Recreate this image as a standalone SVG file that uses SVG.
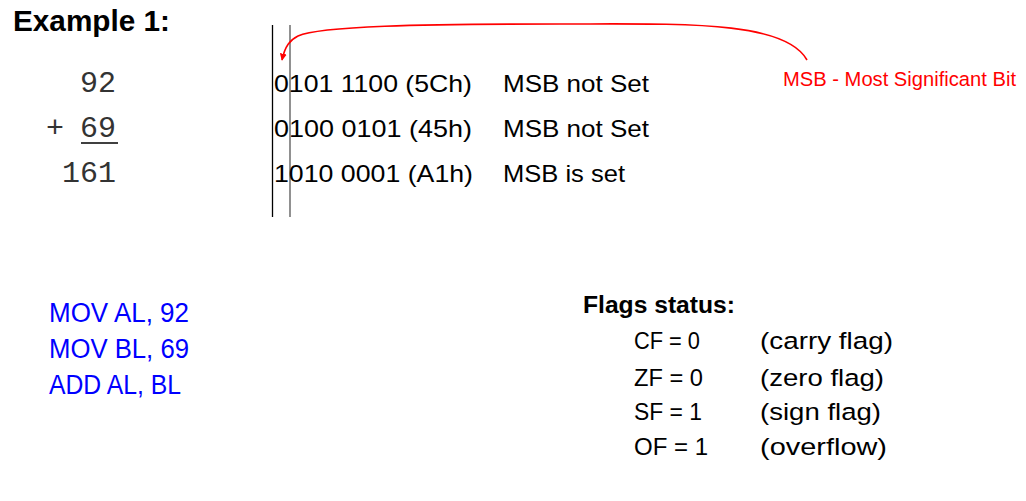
<svg xmlns="http://www.w3.org/2000/svg" width="1026" height="501" viewBox="0 0 1026 501">
<style>
.s{font-family:"Liberation Sans",Arial,sans-serif;fill:#000}
.b{font-weight:bold}
.m{font-family:"Liberation Mono","Courier New",monospace;font-size:30px;fill:#333}
.row{font-size:24.5px}
.blue{fill:#0000ff;font-size:27px}
.fl{font-size:24.5px}
.red{fill:#ff0000;font-size:20.5px}
</style>
<defs>
<marker id="ah" viewBox="0 0 10 10" refX="9" refY="5" markerWidth="7" markerHeight="7" orient="auto" markerUnits="userSpaceOnUse">
<path d="M0,0 L10,5 L0,10 z" fill="#ff0000"/>
</marker>
</defs>
<rect width="1026" height="501" fill="#ffffff"/>
<g id="title"><text class="s b" x="13" y="31" font-size="30" textLength="157" lengthAdjust="spacingAndGlyphs">Example 1:</text></g>
<g id="decimal">
<text class="m" x="116" y="92" text-anchor="end">92</text>
<text class="m" x="46" y="137">+</text>
<text class="m" x="116" y="137" text-anchor="end">69</text>
<line x1="81" y1="143" x2="118" y2="143" stroke="#000" stroke-width="1.3"/>
<text class="m" x="116" y="182" text-anchor="end">161</text>
</g>
<g id="msb-lines">
<line x1="272.5" y1="25" x2="272.5" y2="217" stroke="#000" stroke-width="1.3"/>
<line x1="290" y1="25" x2="290" y2="217" stroke="#555" stroke-width="1.3"/>
</g>
<g id="binary">
<text class="s row" x="274" y="92" textLength="198" lengthAdjust="spacingAndGlyphs">0101 1100 (5Ch)</text>
<text class="s row" x="503" y="92" textLength="146" lengthAdjust="spacingAndGlyphs">MSB not Set</text>
<text class="s row" x="274" y="137" textLength="198" lengthAdjust="spacingAndGlyphs">0100 0101 (45h)</text>
<text class="s row" x="503" y="137" textLength="146" lengthAdjust="spacingAndGlyphs">MSB not Set</text>
<text class="s row" x="274" y="182" textLength="199" lengthAdjust="spacingAndGlyphs">1010 0001 (A1h)</text>
<text class="s row" x="503" y="182" textLength="122" lengthAdjust="spacingAndGlyphs">MSB is set</text>
</g>
<g id="msb-label"><text class="s red" x="783" y="86" textLength="233" lengthAdjust="spacingAndGlyphs">MSB - Most Significant Bit</text></g>
<g id="connectors">
<path d="M807,60 C785,20 680,24 560,24 C420,24 320,26 298,36 C290,40 285,46 282,60" fill="none" stroke="#ff0000" stroke-width="1.6" marker-end="url(#ah)"/>
</g>
<g id="code">
<text class="s blue" x="49" y="322" textLength="140" lengthAdjust="spacingAndGlyphs">MOV AL, 92</text>
<text class="s blue" x="49" y="358" textLength="140" lengthAdjust="spacingAndGlyphs">MOV BL, 69</text>
<text class="s blue" x="49" y="394" textLength="132" lengthAdjust="spacingAndGlyphs">ADD AL, BL</text>
</g>
<g id="flags">
<text class="s b" x="583" y="313" font-size="23" textLength="152" lengthAdjust="spacingAndGlyphs">Flags status:</text>
<text class="s fl" x="634" y="349" textLength="66" lengthAdjust="spacingAndGlyphs">CF = 0</text>
<text class="s fl" x="634" y="386" textLength="69" lengthAdjust="spacingAndGlyphs">ZF = 0</text>
<text class="s fl" x="634" y="420" textLength="68" lengthAdjust="spacingAndGlyphs">SF = 1</text>
<text class="s fl" x="634" y="455" textLength="74" lengthAdjust="spacingAndGlyphs">OF = 1</text>
<text class="s fl" x="760" y="349" textLength="133" lengthAdjust="spacingAndGlyphs">(carry flag)</text>
<text class="s fl" x="760" y="386" textLength="124" lengthAdjust="spacingAndGlyphs">(zero flag)</text>
<text class="s fl" x="760" y="420" textLength="121" lengthAdjust="spacingAndGlyphs">(sign flag)</text>
<text class="s fl" x="760" y="455" textLength="127" lengthAdjust="spacingAndGlyphs">(overflow)</text>
</g>
</svg>
